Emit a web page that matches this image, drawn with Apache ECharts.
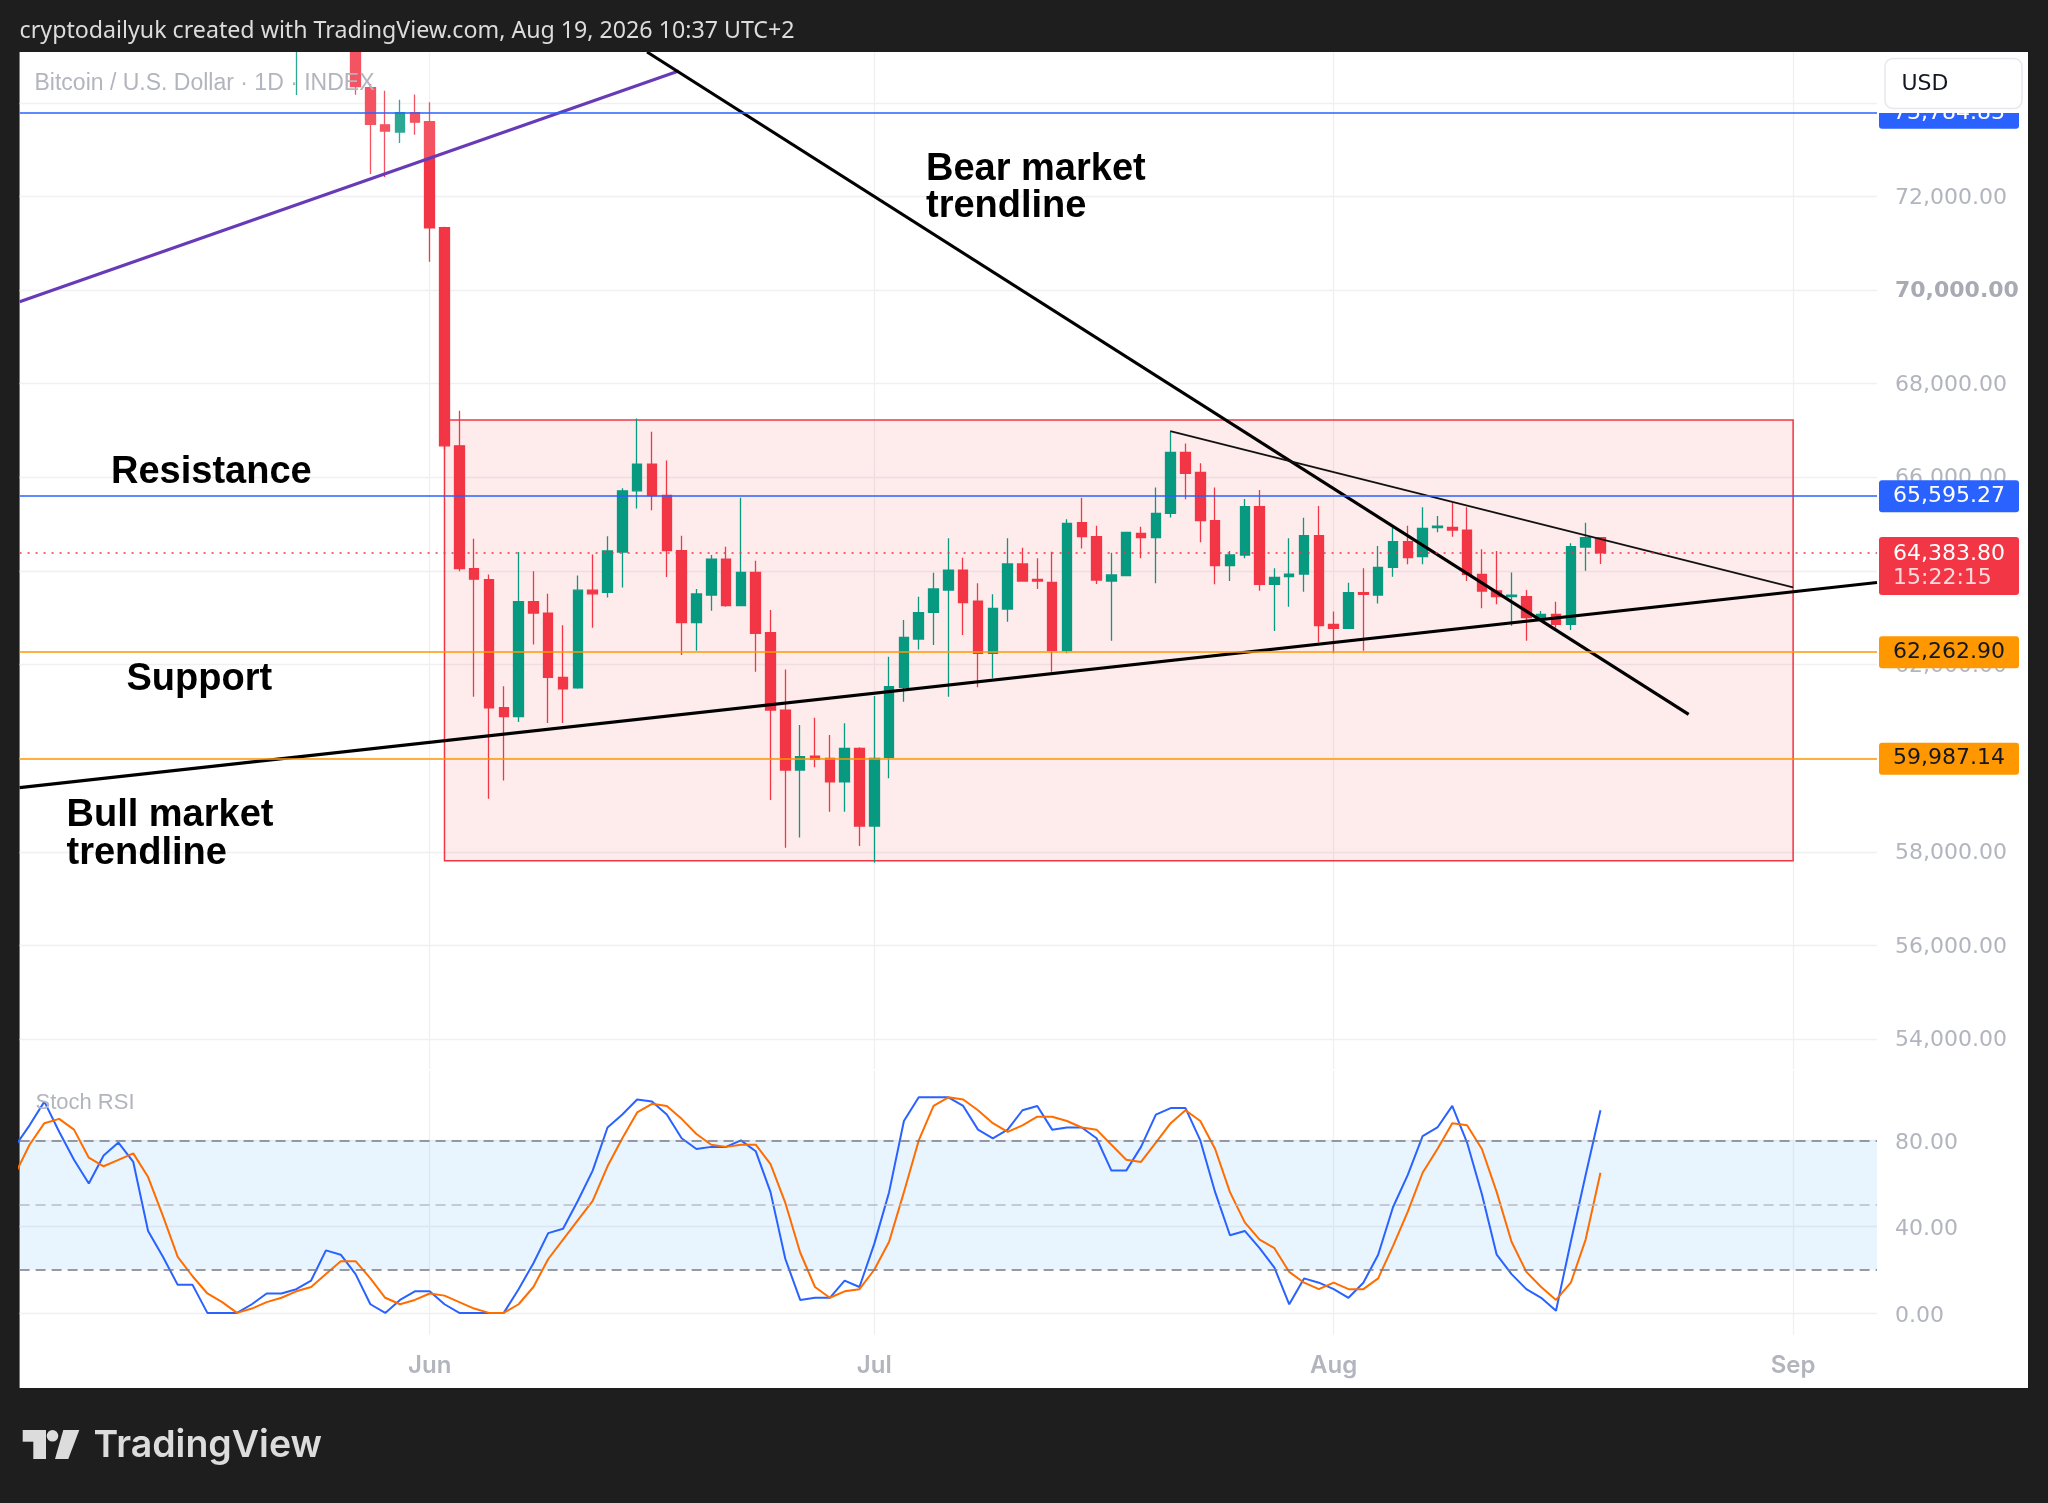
<!DOCTYPE html>
<html><head><meta charset="utf-8">
<script src="https://cdn.jsdelivr.net/npm/echarts@6/dist/echarts.min.js"></script>
<style>html,body{margin:0;padding:0;background:#1e1e1e;}#c{width:2048px;height:1503px;}</style>
</head><body><div id="c"></div>
<script>
// ---------- DATA ----------
const candleStart = '2026-05-23';   // consecutive daily candles from this date
const opens = [75300,null,null,null,75500,74324,73530,73374,73787,
 73597,71330,66672,64047,63812,61076,60886,63344,63098,61724,61500,63589,63544,64404,65711,66281,65611,64431,62893,63484,64253,63256,63968,62680,61027,59746,60045,59995,59496,60209,
 58549,60017,61512,62544,63114,63591,64018,63356,62238,63185,64147,63819,63755,62295,65029,64730,63783,63897,64802,64709,65229,66532,66105,65072,64111,64339,65371,63712,63876,63933,64752,
 62857,62772,63534,63484,64076,64624,64303,64923,64930,64873,63926,63570,63449,63449,63000,63071,62857,64510,64709];
const closes = [75900,null,null,null,74346,73541,73396,73787,73586,
 71330,66672,64047,63823,61076,60886,63344,63098,61724,61478,63589,63511,64427,65711,66281,65611,64431,62893,63506,64253,63256,63968,62665,61027,59746,60030,59973,59496,60209,58549,
 59995,61526,62580,63107,63613,64018,63320,62238,63199,64147,63783,63783,62295,65015,64730,63805,63912,64823,64709,65229,66532,66083,65072,64111,64339,65371,63712,63862,63933,64752,62829,
 62772,63534,63499,64076,64624,64282,64909,64958,64873,63926,63570,63449,63484,63000,63071,62857,64517,64709,64383.80];
const lows = [74166,null,null,null,74170,72480,72413,73139,73318,
 70604,66600,63990,61310,59132,59523,60774,62427,60752,60752,61480,62785,63433,63645,65331,65298,63868,62203,62295,63150,63235,63256,61846,59105,58087,58307,59803,58856,58856,58122,
 57766,59568,61206,62323,62416,61312,62630,61512,61704,62915,63783,63613,61846,62238,64481,63720,62508,63897,64268,63734,65143,65528,64610,63712,63783,64268,63577,62715,63235,63556,62473,
 62238,62772,62295,63306,63876,64140,64140,64823,64730,63783,63200,63285,62829,62508,62971,62786,62736,64004,64147];
const highs = [76300,null,null,null,75700,74400,74256,74066,74178,
 74010,71350,67420,64684,63924,61533,64404,63991,63511,62840,63902,64349,64740,65767,67253,66974,66360,64752,63613,64339,64517,65564,64218,63164,61896,60707,60864,60493,60743,60230,
 61327,62167,62950,63449,63961,64695,64282,63734,63499,64695,64496,64268,64410,65101,65564,64965,64389,64837,64944,65784,66973,66724,66297,65784,64424,65535,65727,64054,64695,65136,65386,
 63130,63748,64054,64531,64923,64965,65357,65172,65457,65357,64460,64424,63968,63591,63143,63342,64588,65029,64709];

const stochStart = '2026-05-04';    // consecutive daily values from this date
const stochK = [77,87,98,84,71,60,73,79,70,38,26,13,13,0,0,0,4,9,9,11,15,29,27,18,4,0,6,10,
 10,4,0,0,0,0,11,23,37,39,52,66,86,92,99,98,92,81,76,77,77,80,75,56,25,6,7,7,15,12,
 32,56,89,100,100,100,96,85,81,85,94,96,85,86,86,81,66,66,77,92,95,95,80,56,36,38,30,21,4,16,14,
 11,7,14,27,49,64,82,86,96,79,55,27,18,11,7,1,33,64,94];
const stochD = [64,78,88,90,85,72,68,71,74,63,45,26,17,9,5,0,2,5,7,10,12,18,24,24,16,7,4,6,
 9,8,5,2,0,0,4,12,25,34,43,52,68,81,93,97,96,90,83,78,77,78,78,69,51,28,12,7,10,11,
 20,33,56,80,96,100,99,94,88,84,87,91,91,89,86,85,78,71,70,79,88,94,89,76,56,42,34,30,19,14,11,
 14,11,11,16,31,47,65,76,88,87,76,56,33,19,12,6,14,34,65];

// price levels (horizontal lines with axis labels)
const levelPrices = [73784.83, 65595.27, 64383.80, 62262.90, 59987.14];
const levelKinds  = ['blue', 'blue', 'last', 'orange', 'orange'];
const countdown = '15:22:15';

// drawings: [day offset from Jun 1, price]
const purpleLine = [[-27.67, 69750], [16.8, 74679]];
const bearLine   = [[14.67, 75085], [84.95, 60934]];
const topLine    = [[49.97, 66988], [92, 63647]];
const bullLine   = [[-27.67, 59370], [97.66, 63752]];
const boxRange   = [[1, 67223], [92, 57809]];

const monthTicks = [0, 30, 61, 92];
const monthNames = ['Jun', 'Jul', 'Aug', 'Sep'];
const stochTicks = [0, 40, 80];
const stochLevels = [80, 50, 20];

// ---------- HELPERS ----------
const base = Date.UTC(2026, 5, 1);
const dayOf = s => { const [y, m, d] = s.split('-').map(Number); return (Date.UTC(y, m - 1, d) - base) / 864e5; };
const fmt2 = v => v.toLocaleString('en-US', {minimumFractionDigits: 2, maximumFractionDigits: 2});

const c0 = dayOf(candleStart);
const candleData = [];
opens.forEach((o, i) => { if (o != null) candleData.push([c0 + i, o, closes[i], lows[i], highs[i]]); });
const s0 = dayOf(stochStart);
const kData = stochK.map((v, i) => [s0 + i, v]);
const dData = stochD.map((v, i) => [s0 + i, v]);

const X_MIN = -27.67, X_MAX = 97.66;
const Y_MIN = 53359, Y_MAX = 75085;
const S_MIN = -10.26, S_MAX = 112.2;

const levelStyle = {
  blue:   {line: {color: '#2962ff', width: 1.5, type: 'solid'}, bg: '#2962ff', fg: '#ffffff'},
  orange: {line: {color: '#ff9800', width: 1.5, type: 'solid'}, bg: '#ff9800', fg: '#131722'},
  last:   {line: {color: '#f23645', width: 1.5, type: [2, 6]}, bg: '#f23645', fg: '#ffffff'}
};
const levelData = levelPrices.map((p, i) => {
  const s = levelStyle[levelKinds[i]];
  const isLast = levelKinds[i] === 'last';
  const lab = {
    show: true, position: 'end', distance: 2,
    backgroundColor: s.bg, color: s.fg, padding: [5, 14, 5, 14], width: 112,
    fontSize: 22, fontFamily: 'DejaVu Sans', lineHeight: 22, borderRadius: 3,
    formatter: fmt2(p)
  };
  if (isLast) {
    lab.formatter = '{a|' + fmt2(p) + '}\n{b|' + countdown + '}';
    lab.offset = [0, 13];
    lab.rich = {
      a: {color: '#ffffff', fontSize: 22, fontFamily: 'DejaVu Sans', lineHeight: 24},
      b: {color: 'rgba(255,255,255,0.82)', fontSize: 22, fontFamily: 'DejaVu Sans', lineHeight: 24}
    };
  }
  return {yAxis: p, lineStyle: s.line, label: lab};
});

const GRID_L = 19.6, GRID_W = 1857.4;
const gridColor = '#f0f0f2';
const axisText = '#b2b5be';

const option = {
  backgroundColor: '#1e1e1e',
  animation: false,
  grid: [
    {left: GRID_L, width: GRID_W, top: 52, height: 1017, containLabel: false, outerBoundsMode: 'none'},
    {left: GRID_L, width: GRID_W, top: 1071, height: 264, containLabel: false, outerBoundsMode: 'none'}
  ],
  xAxis: [
    {type: 'value', gridIndex: 0, min: X_MIN, max: X_MAX,
     axisLine: {show: false}, axisLabel: {show: false},
     axisTick: {show: false, customValues: monthTicks},
     splitLine: {show: true, lineStyle: {color: gridColor, width: 1.3}}},
    {type: 'value', gridIndex: 1, min: X_MIN, max: X_MAX,
     axisLine: {show: false},
     axisTick: {show: false, customValues: monthTicks},
     axisLabel: {show: true, customValues: monthTicks, margin: 18.5, color: axisText, fontSize: 24,
       fontFamily: 'Inter', fontWeight: 600,
       formatter: v => monthNames[monthTicks.indexOf(Math.round(v))] || ''},
     splitLine: {show: true, lineStyle: {color: gridColor, width: 1.3}}}
  ],
  yAxis: [
    {type: 'value', gridIndex: 0, position: 'right', min: Y_MIN, max: Y_MAX, splitNumber: 11, scale: true,
     axisLine: {show: false}, axisTick: {show: false},
     axisLabel: {margin: 18, color: axisText, fontSize: 22, fontFamily: 'DejaVu Sans', padding: [3, 0, 0, 0],
       showMinLabel: false, showMaxLabel: false,
       formatter: v => v === 70000 ? '{b|' + fmt2(v) + '}' : fmt2(v),
       rich: {b: {color: '#a8abb4', fontSize: 22, fontFamily: 'DejaVu Sans', fontWeight: 'bold'}}},
     splitLine: {show: true, showMinLine: false, showMaxLine: false, lineStyle: {color: gridColor, width: 1.3}}},
    {type: 'value', gridIndex: 1, position: 'right', min: S_MIN, max: S_MAX,
     axisLine: {show: false},
     axisTick: {show: false, customValues: stochTicks},
     axisLabel: {customValues: stochTicks, margin: 18, color: axisText, fontSize: 22, fontFamily: 'DejaVu Sans',
       formatter: v => '{a|' + v.toFixed(2) + '}',
       rich: {a: {color: axisText, fontSize: 22, fontFamily: 'DejaVu Sans', padding: [6, 0, 0, 0]}}},
     splitLine: {show: true, lineStyle: {color: gridColor, width: 1.3}}}
  ],
  series: [
    {
      type: 'candlestick', xAxisIndex: 0, yAxisIndex: 0, z: 2, clip: true, silent: true,
      data: candleData, barWidth: 10,
      itemStyle: {color: '#089981', color0: '#f23645', borderColor: '#089981', borderColor0: '#f23645', borderWidth: 1.3},
      markArea: {
        silent: true,
        itemStyle: {color: 'rgba(242,54,69,0.1)', borderColor: '#f23645', borderWidth: 1.5},
        data: [[{coord: boxRange[0]}, {coord: boxRange[1]}]]
      },
      markLine: {silent: true, symbol: ['none', 'none'], animation: false, data: levelData}
    },
    {
      type: 'line', xAxisIndex: 0, yAxisIndex: 0, z: 3, silent: true, symbol: 'none',
      data: purpleLine, lineStyle: {color: '#673ab7', width: 3},
      areaStyle: {color: 'rgba(255,255,255,0.22)', origin: 'end'}
    },
    {type: 'line', xAxisIndex: 0, yAxisIndex: 0, z: 4, silent: true, symbol: 'none',
     data: bearLine, lineStyle: {color: '#000000', width: 3.2}},
    {type: 'line', xAxisIndex: 0, yAxisIndex: 0, z: 4, silent: true, symbol: 'none',
     data: topLine, lineStyle: {color: '#111111', width: 1.8}},
    {type: 'line', xAxisIndex: 0, yAxisIndex: 0, z: 4, silent: true, symbol: 'none',
     data: bullLine, lineStyle: {color: '#000000', width: 3.2}},
    {
      type: 'line', name: 'K', xAxisIndex: 1, yAxisIndex: 1, z: 3, silent: true, symbol: 'none',
      data: kData, lineStyle: {color: '#2962ff', width: 2},
      markArea: {silent: true, itemStyle: {color: 'rgba(33,150,243,0.1)'}, data: [[{yAxis: 20}, {yAxis: 80}]]},
      markLine: {silent: true, symbol: ['none', 'none'], label: {show: false},
        data: stochLevels.map(v => ({yAxis: v, lineStyle: {color: v === 50 ? '#b8bbc3' : '#787b86', width: 1.6, type: [10, 6]}}))}
    },
    {type: 'line', name: 'D', xAxisIndex: 1, yAxisIndex: 1, z: 3, silent: true, symbol: 'none',
     data: dData, lineStyle: {color: '#ff6d00', width: 2}}
  ],
  graphic: {elements: [
    {type: 'rect', silent: true, z: -10, shape: {x: GRID_L, y: 52, width: 2028 - GRID_L, height: 1336}, style: {fill: '#ffffff'}},
    // dark title bar (covers anything above the pane)
    {type: 'rect', silent: true, z: 40, shape: {x: 0, y: 0, width: 2048, height: 52}, style: {fill: '#1e1e1e'}},
    {type: 'text', silent: true, z: 50, x: 19.6, y: 31,
     style: {text: 'cryptodailyuk created with TradingView.com, Aug 19, 2026 10:37 UTC+2', font: '23.2px "Noto Sans"', fill: '#dcdcdc', verticalAlign: 'middle'}},
    {type: 'text', silent: true, z: 50, x: 34.5, y: 84,
     style: {text: 'Bitcoin / U.S. Dollar · 1D · INDEX', font: '23px "Liberation Sans"', fill: '#b2b5be', verticalAlign: 'middle'}},
    {type: 'text', silent: true, z: 50, x: 35.5, y: 1103,
     style: {text: 'Stoch RSI', font: '22px "Liberation Sans"', fill: '#b2b5be', verticalAlign: 'middle'}},
    // annotation texts
    {type: 'text', silent: true, z: 50, x: 926, y: 170, style: {text: 'Bear market', font: 'bold 38px "Liberation Sans"', fill: '#000', verticalAlign: 'middle'}},
    {type: 'text', silent: true, z: 50, x: 926, y: 207, style: {text: 'trendline', font: 'bold 38px "Liberation Sans"', fill: '#000', verticalAlign: 'middle'}},
    {type: 'text', silent: true, z: 50, x: 111, y: 473, style: {text: 'Resistance', font: 'bold 38px "Liberation Sans"', fill: '#000', verticalAlign: 'middle'}},
    {type: 'text', silent: true, z: 50, x: 126.5, y: 680, style: {text: 'Support', font: 'bold 38px "Liberation Sans"', fill: '#000', verticalAlign: 'middle'}},
    {type: 'text', silent: true, z: 50, x: 66.5, y: 816, style: {text: 'Bull market', font: 'bold 38px "Liberation Sans"', fill: '#000', verticalAlign: 'middle'}},
    {type: 'text', silent: true, z: 50, x: 66.5, y: 854, style: {text: 'trendline', font: 'bold 38px "Liberation Sans"', fill: '#000', verticalAlign: 'middle'}},
    // USD button panel + box
    {type: 'rect', silent: true, z: 99, shape: {x: 1878.5, y: 52, width: 149.5, height: 61}, style: {fill: '#ffffff'}},
    {type: 'rect', silent: true, z: 100, shape: {x: 1885, y: 58.5, width: 137, height: 50, r: 8}, style: {fill: '#ffffff', stroke: '#e6e8ee', lineWidth: 1.5}},
    {type: 'text', silent: true, z: 101, x: 1901.5, y: 84, style: {text: 'USD', font: '22px "DejaVu Sans"', fill: '#131722', verticalAlign: 'middle'}},
    // TradingView logo
    {type: 'rect', silent: true, z: 50, shape: {x: 22.7, y: 1430, width: 23.3, height: 11.7}, style: {fill: '#dcdcdc'}},
    {type: 'rect', silent: true, z: 50, shape: {x: 33.3, y: 1430, width: 12.7, height: 29}, style: {fill: '#dcdcdc'}},
    {type: 'circle', silent: true, z: 50, shape: {cx: 52.5, cy: 1435.8, r: 5.8}, style: {fill: '#dcdcdc'}},
    {type: 'polygon', silent: true, z: 50, shape: {points: [[63.3, 1430], [79.3, 1430], [68.3, 1459], [55, 1459]]}, style: {fill: '#dcdcdc'}},
    {type: 'text', silent: true, z: 50, x: 93.5, y: 1446, style: {text: 'TradingView', font: '600 37.5px Inter', fill: '#dcdcdc', verticalAlign: 'middle'}}
  ]}
};

const chart = echarts.init(document.getElementById('c'), null, {renderer: 'canvas', width: 2048, height: 1503});
chart.setOption(option);
</script>
</body></html>
